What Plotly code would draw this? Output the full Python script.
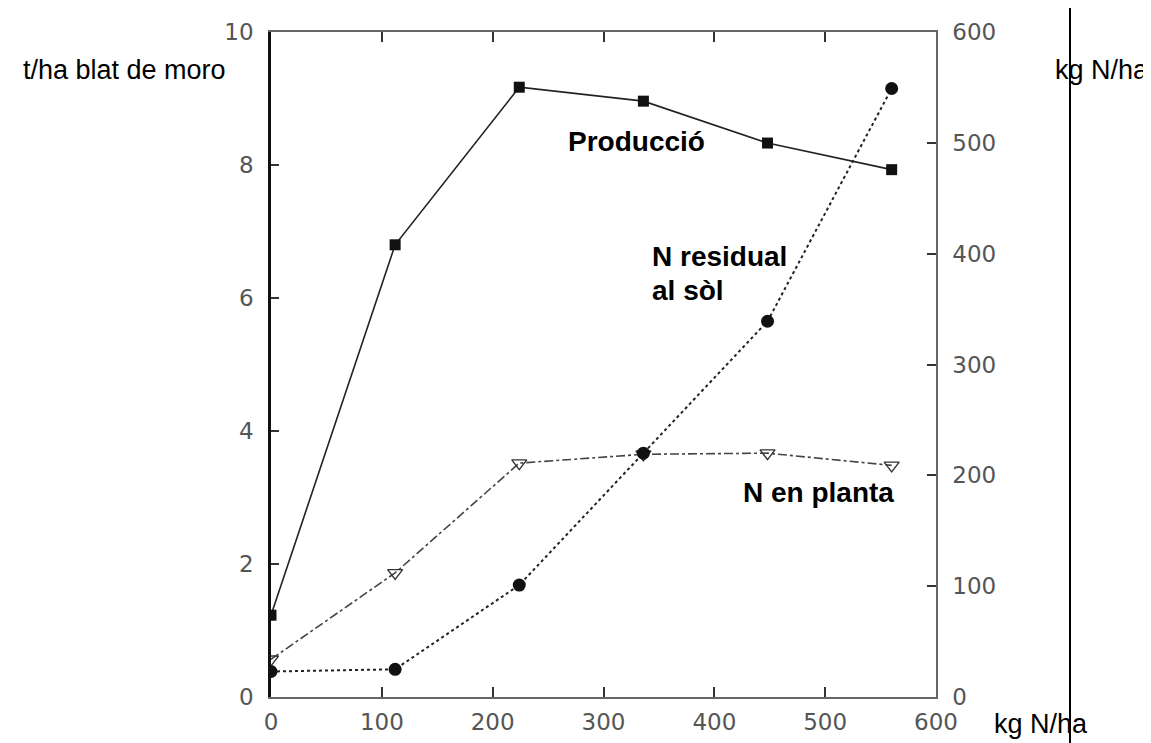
import plotly.graph_objects as go

dose = [0, 112, 224, 336, 448, 560]
produccio = [1.23, 6.80, 9.17, 8.96, 8.33, 7.93]
n_residual = [23, 25, 101, 220, 339, 549]
n_planta = [34, 112, 211, 219, 220, 209]

x_ticks = [0, 100, 200, 300, 400, 500, 600]
y_left_ticks = [0, 2, 4, 6, 8, 10]
y_right_ticks = [0, 100, 200, 300, 400, 500, 600]

fig = go.Figure()

fig.add_trace(go.Scatter(
    x=dose, y=n_planta, yaxis="y2", mode="lines+markers",
    line=dict(color="#444", width=1.6, dash="dashdot"),
    marker=dict(symbol="triangle-down-open", size=13, color="#333", line=dict(width=1.4)),
    showlegend=False))
fig.add_trace(go.Scatter(
    x=dose, y=n_residual, yaxis="y2", mode="lines+markers",
    line=dict(color="#222", width=2, dash="dot"),
    marker=dict(symbol="circle", size=13, color="#111"),
    showlegend=False))
fig.add_trace(go.Scatter(
    x=dose, y=produccio, mode="lines+markers",
    line=dict(color="#222", width=1.6),
    marker=dict(symbol="square", size=11, color="#111"),
    showlegend=False))

tickfont = dict(family="DejaVu Sans", size=23, color="#555")
label_font = dict(family="Liberation Sans, Arial", size=27, color="black")
note_font = dict(family="Liberation Sans, Arial", size=28, color="black")

fig.update_layout(
    width=1151, height=743,
    margin=dict(l=263, r=223, t=24, b=54),
    paper_bgcolor="white", plot_bgcolor="white",
    xaxis=dict(range=[0, 600], tickvals=x_ticks, ticks="inside", ticklen=10,
               tickwidth=1.5, tickcolor="#333", showline=True, linecolor="#666",
               linewidth=1.5, mirror="ticks", showgrid=False, zeroline=False,
               tickfont=tickfont, ticklabelstandoff=4),
    yaxis=dict(range=[0, 10], tickvals=y_left_ticks, ticks="inside", ticklen=8,
               tickwidth=1.5, tickcolor="#333", showline=True, linecolor="#111",
               linewidth=2.5, showgrid=False, zeroline=False, tickfont=tickfont,
               ticklabelstandoff=10),
    yaxis2=dict(range=[0, 600], tickvals=y_right_ticks, overlaying="y", side="right",
                ticks="inside", ticklen=9, tickwidth=1.5, tickcolor="#333",
                showline=True, linecolor="#666", linewidth=1.5, showgrid=False,
                zeroline=False, tickfont=tickfont, ticklabelstandoff=10),
)

annotations = [
    dict(text="t/ha blat de moro", x=-0.376, y=0.943, xref="paper", yref="paper",
         xanchor="left", yanchor="middle", showarrow=False, font=label_font),
    dict(text="kg N/ha", x=1.176, y=0.943, xref="paper", yref="paper",
         xanchor="left", yanchor="middle", showarrow=False, font=label_font),
    dict(text="kg N/ha", x=1.084, y=-0.04, xref="paper", yref="paper",
         xanchor="left", yanchor="middle", showarrow=False, font=label_font),
    dict(text="<b>Producció</b>", x=266, y=8.36, xref="x", yref="y",
         xanchor="left", yanchor="middle", showarrow=False, font=note_font),
    dict(text="<b>N residual</b>", x=342, y=6.63, xref="x", yref="y",
         xanchor="left", yanchor="middle", showarrow=False, font=note_font),
    dict(text="<b>al sòl</b>", x=342, y=6.12, xref="x", yref="y",
         xanchor="left", yanchor="middle", showarrow=False, font=note_font),
    dict(text="<b>N en planta</b>", x=424, y=3.07, xref="x", yref="y",
         xanchor="left", yanchor="middle", showarrow=False, font=note_font),
]
fig.update_layout(annotations=annotations)

fig.add_shape(type="line", xref="paper", yref="paper",
              x0=1.2015, x1=1.2015, y0=-0.1, y1=1.06,
              line=dict(color="black", width=2))

fig.write_html("out.html")
